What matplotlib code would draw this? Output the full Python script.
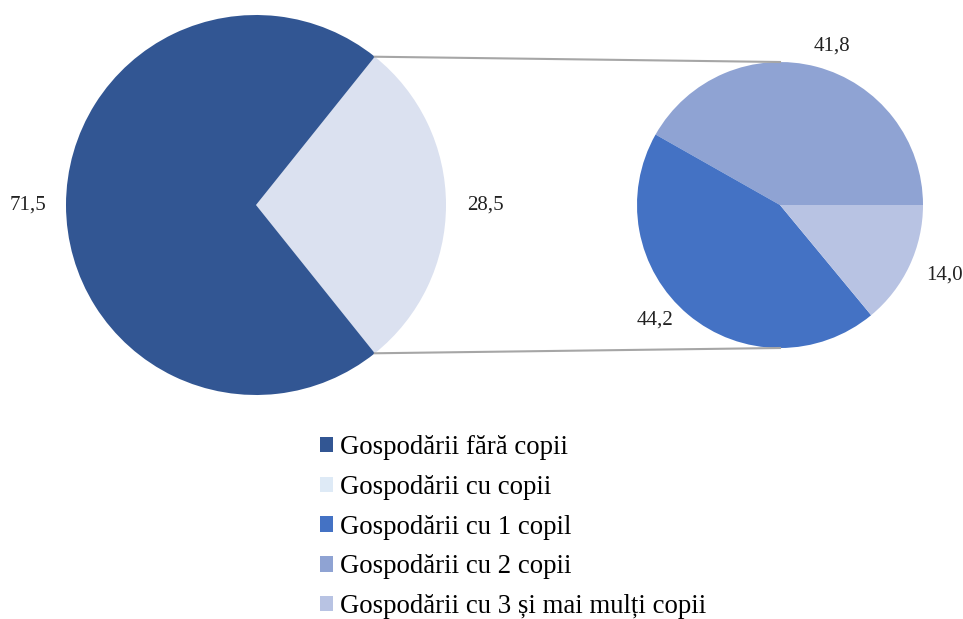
import matplotlib.pyplot as plt
from matplotlib.patches import Patch
import numpy as np

plt.rcParams['font.family'] = ['Liberation Serif', 'DejaVu Serif']

# main pie
main_labels = ["Gospodării cu copii", "Gospodării fără copii"]
main_values = [28.5, 71.5]
main_colors = ['#dbe1f0', '#325693']

# secondary pie (breakdown of households with children)
sub_labels = ["Gospodării cu 2 copii", "Gospodării cu 1 copil", "Gospodării cu 3 și mai mulți copii"]
sub_values = [41.8, 44.2, 14.0]
sub_colors = ['#8fa3d3', '#4472c4', '#b8c3e3']

legend_order = ["Gospodării fără copii", "Gospodării cu copii", "Gospodării cu 1 copil",
                "Gospodării cu 2 copii", "Gospodării cu 3 și mai mulți copii"]
legend_colors = ['#325693', '#deeaf6', '#4472c4', '#8fa3d3', '#b8c3e3']

fig = plt.figure(figsize=(9.63, 6.19), dpi=100)
ax = fig.add_axes([0, 0, 1, 1])

c1, r1 = (256, 414), 190
c2, r2 = (780, 414), 143

start1 = -main_values[0] / 100 * 360 / 2
w1, _ = ax.pie(main_values, colors=main_colors, startangle=start1, center=c1,
               radius=r1, frame=True)
w2, _ = ax.pie(sub_values, colors=sub_colors, startangle=0, center=c2,
               radius=r2, frame=True)
ax.set_xlim(0, 963)
ax.set_ylim(0, 619)
ax.set_aspect('equal')
ax.axis('off')

def label_pie(wedges, values, center, radius, factors, shifts):
    for w, v, f, s in zip(wedges, values, factors, shifts):
        mid = np.deg2rad((w.theta1 + w.theta2) / 2 + s)
        x = center[0] + radius * f * np.cos(mid)
        y = center[1] + radius * f * np.sin(mid)
        ax.text(x, y, f"{v:.1f}".replace('.', ','), ha='center', va='center',
                fontsize=15, color='#222222')

label_pie(w1, main_values, c1, r1, [1.21, 1.2], [0, 0])
label_pie(w2, sub_values, c2, r2, [1.17, 1.19, 1.25], [-3.5, -7.5, 2])

# connector lines between the pies
a = np.deg2rad(w1[0].theta2)
b = np.deg2rad(w1[0].theta1)
ax.plot([c1[0] + r1 * np.cos(a), c2[0]], [c1[1] + r1 * np.sin(a), c2[1] + r2],
        color='#a6a6a6', lw=1.5)
ax.plot([c1[0] + r1 * np.cos(b), c2[0]], [c1[1] + r1 * np.sin(b), c2[1] - r2],
        color='#a6a6a6', lw=1.5)

handles = [Patch(facecolor=c, edgecolor='none') for c in legend_colors]
fig.legend(handles, legend_order, loc='upper left', bbox_to_anchor=(0.332, 0.297),
           frameon=False, fontsize=19.3, handlelength=0.5, handleheight=0.5,
           handletextpad=0.26, labelspacing=0.55, borderaxespad=0, borderpad=0)

plt.savefig('out.png', dpi=100)
